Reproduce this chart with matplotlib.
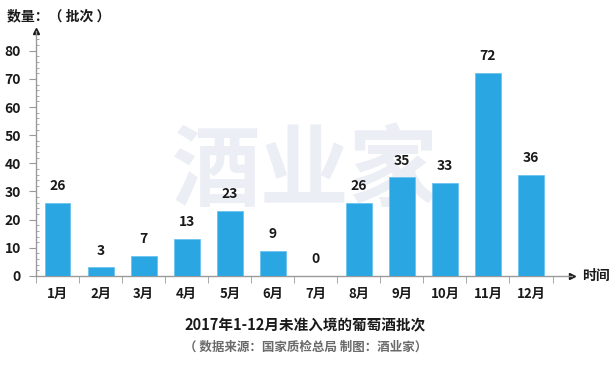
import matplotlib
matplotlib.use("Agg")
import matplotlib.pyplot as plt
from matplotlib.ticker import MultipleLocator

plt.rcParams['font.family'] = ['Noto Sans CJK SC', 'DejaVu Sans']

months = ['1月', '2月', '3月', '4月', '5月', '6月', '7月', '8月', '9月', '10月', '11月', '12月']
values = [26, 3, 7, 13, 23, 9, 0, 26, 35, 33, 72, 36]
yticks = [0, 10, 20, 30, 40, 50, 60, 70, 80]
title = '2017年1-12月未准入境的葡萄酒批次'
subtitle = '（ 数据来源：国家质检总局 制图：酒业家）'
ylabel = '数量：（ 批次 ）'
xlabel = '时间'
watermark = '酒业家'

fig = plt.figure(figsize=(6.11, 3.65), dpi=100)
ax = fig.add_axes([0.059, 0.244, 0.877, 0.671])

axis_color = '#9a9a9a'
bar_color = '#2aa6e2'

# watermark (behind bars)
ax.text(0.50, 0.525, watermark, fontsize=64, color='#eceef6', ha='center', va='center',
        fontweight='bold', transform=fig.transFigure, zorder=0.5)
ax.set_facecolor('none')

x = list(range(len(months)))
ax.bar(x, values, width=0.6, color=bar_color, edgecolor='#6cc3ee', linewidth=0.6, zorder=3)
for xi, v in zip(x, values):
    ax.text(xi, v + 3.5, str(v), ha='center', va='bottom', fontsize=10, fontweight='bold',
            color='#1a1a1a', zorder=4)

ax.set_xlim(-0.5, 11.95)
ax.set_ylim(0, 87)
ax.set_yticks(yticks)
ax.yaxis.set_minor_locator(MultipleLocator(2))
ax.set_yticklabels([str(t) for t in yticks], fontsize=10, fontweight='bold', color='#1a1a1a')
ax.tick_params(axis='y', which='major', direction='out', length=5, color=axis_color, pad=6)
ax.tick_params(axis='y', which='minor', direction='in', length=2, color=axis_color)

ax.set_xticks(x)
ax.set_xticklabels(months, fontsize=9.5, fontweight='bold', color='#1a1a1a')
ax.tick_params(axis='x', which='major', length=0, pad=8)
ax.set_xticks([i + 0.5 for i in range(-1, 12)], minor=True)
ax.tick_params(axis='x', which='minor', direction='out', length=5, color=axis_color)

for s in ['top', 'right']:
    ax.spines[s].set_visible(False)
for s in ['left', 'bottom']:
    ax.spines[s].set_color(axis_color)
    ax.spines[s].set_linewidth(1.0)

# arrows
ax.plot(1, 0, marker='>', color='#1a1a1a', markersize=4, transform=ax.transAxes, clip_on=False)
ax.plot(0, 1, marker='^', color='#1a1a1a', markersize=4, transform=ax.transAxes, clip_on=False)

fig.text(0.953, 0.244, xlabel, fontsize=10, fontweight='bold', ha='left', va='center', color='#1a1a1a')
fig.text(0.012, 0.955, ylabel, fontsize=10, fontweight='bold', ha='left', va='center', color='#1a1a1a')

fig.text(0.5, 0.108, title, fontsize=10.5, fontweight='bold', ha='center', va='center', color='#1a1a1a')
fig.text(0.5, 0.05, subtitle, fontsize=9, fontweight='bold', ha='center', va='center', color='#6a6a6a')

fig.savefig('out.png', dpi=100, facecolor='white')
